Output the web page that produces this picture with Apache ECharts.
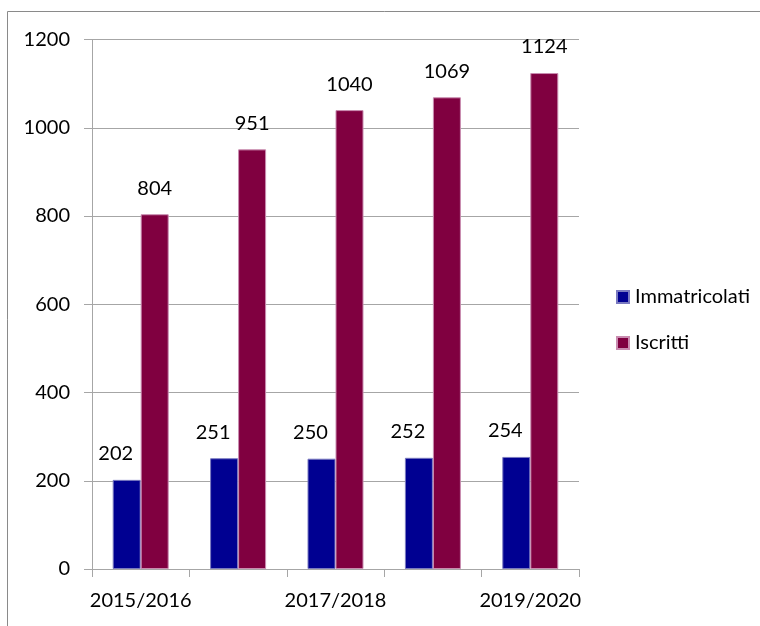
<!DOCTYPE html>
<html>
<head>
<meta charset="utf-8">
<script src="https://cdn.jsdelivr.net/npm/echarts@6/dist/echarts.min.js"></script>
<style>
html,body{margin:0;padding:0;background:#fff;}
#c{width:760px;height:626px;}
</style>
</head>
<body>
<div id="c"></div>
<script>
var categories = ['2015/2016', '2016/2017', '2017/2018', '2018/2019', '2019/2020'];
var immatricolati = [202, 251, 250, 252, 254];
var iscritti = [804, 951, 1040, 1069, 1124];
var seriesNames = ['Immatricolati', 'Iscritti'];

var FONT = 'Lato';
var FS = 20;
var chart = echarts.init(document.getElementById('c'), null, {renderer: 'canvas'});
chart.setOption({
  animation: false,
  backgroundColor: '#fff',
  textStyle: {fontFamily: FONT},
  graphic: [{
    type: 'rect',
    shape: {x: 7.5, y: 11.5, width: 900, height: 800},
    style: {fill: 'none', stroke: '#8a8a8a', lineWidth: 1},
    silent: true,
    z: -10
  }],
  grid: {left: 92, right: 181, top: 39.5, bottom: 57, containLabel: false},
  legend: {
    orient: 'vertical',
    left: 616,
    top: 287,
    padding: 0,
    itemWidth: 12,
    itemHeight: 12,
    itemGap: 26,
    icon: 'rect',
    textStyle: {fontFamily: FONT, fontSize: FS, color: '#000', padding: [0, 0, 0, 1]},
    data: seriesNames
  },
  xAxis: {
    type: 'category',
    data: categories,
    boundaryGap: true,
    axisLine: {lineStyle: {color: '#a6a6a6', width: 1}},
    axisTick: {show: true, interval: 0, length: 8, lineStyle: {color: '#a6a6a6'}},
    axisLabel: {interval: 1, margin: 22, fontFamily: FONT, fontSize: FS, color: '#000'},
    splitLine: {show: false}
  },
  yAxis: {
    type: 'value',
    min: 0,
    max: 1200,
    interval: 200,
    axisLine: {show: true, lineStyle: {color: '#a6a6a6', width: 1}},
    axisTick: {show: true, length: 8, lineStyle: {color: '#a6a6a6'}},
    axisLabel: {margin: 22, fontFamily: FONT, fontSize: FS, color: '#000',
      formatter: function (v) { return String(v); }},
    splitLine: {show: true, lineStyle: {color: '#a6a6a6', width: 1}}
  },
  series: [{
    name: seriesNames[0],
    type: 'bar',
    data: immatricolati,
    barWidth: 28,
    barGap: '0%',
    itemStyle: {color: '#000091', borderColor: '#7a7ac0', borderWidth: 1},
    label: {
      show: true, position: 'top', distance: 16, offset: [-11, 0],
      fontFamily: FONT, fontSize: FS, lineHeight: 20, color: '#000'
    }
  }, {
    name: seriesNames[1],
    type: 'bar',
    data: iscritti,
    barWidth: 28,
    barGap: '0%',
    itemStyle: {color: '#800040', borderColor: '#c98cb0', borderWidth: 1},
    label: {
      show: true, position: 'top', distance: 16,
      fontFamily: FONT, fontSize: FS, lineHeight: 20, color: '#000'
    }
  }]
});
</script>
</body>
</html>
